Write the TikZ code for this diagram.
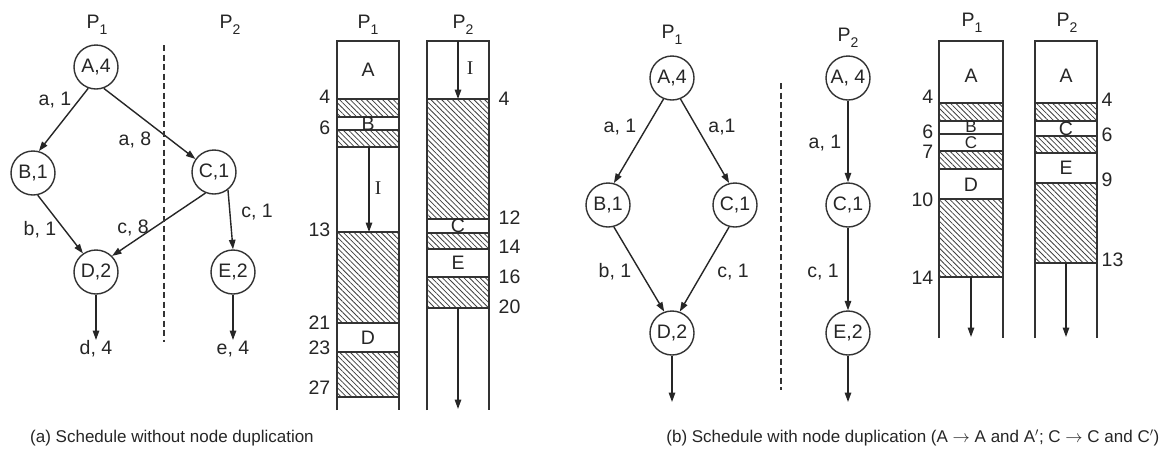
\documentclass[tikz,border=0pt]{standalone}
\usepackage{fontspec}
\setmainfont{Liberation Sans}
\newfontfamily\serifI{Liberation Serif}
\usetikzlibrary{arrows.meta,patterns.meta}
\newcommand{\Pn}[1]{P\raisebox{-0.55ex}{\fontsize{14}{14}\selectfont #1}}
\begin{document}
\begin{tikzpicture}[x=1pt,y=-1pt,
  line width=1.4pt,
  >={Triangle[length=9.5pt,width=6.5pt]},
  every node/.style={font=\fontsize{19.5}{22}\selectfont, inner sep=0pt, text=black!85},
  task/.style={circle,draw=black!80,minimum size=44pt,inner sep=0pt,font=\fontsize{19.5}{22}\selectfont},
  conn/.style={draw=black!85,->},
  sepline/.style={draw=black!80,line width=1.1pt,dash pattern=on 6pt off 3.5pt},
  colline/.style={draw=black!80},
  hatch/.style={draw=black!80, pattern={Lines[angle=-45,distance=3.8pt,line width=0.8pt]}, pattern color=black!75},
  tleft/.style={anchor=east},
  tright/.style={anchor=west},
  small/.style={font=\fontsize{17}{18}\selectfont},
  captext/.style={font=\fontsize{17}{20}\selectfont}
]
\useasboundingbox (0,0) rectangle (1162,448);
\fill[white] (0,0) rectangle (1162,448);

% ---------------- (a) graph ----------------
\node (pa1) at (97,25) {\Pn1};
\node (pa2) at (230,25) {\Pn2};
\node[task] (A) at (96,67) {A,4};
\node[task] (B) at (33,173) {B,1};
\node[task] (C) at (214,172) {C,1};
\node[task] (D) at (96,272) {D,2};
\node[task] (E) at (233,272) {E,2};
\draw[conn] (A.-110) -- (B.75);
\draw[conn] (A.-70) -- (C.145);
\draw[conn] (B.-78) -- (D.125);
\draw[conn] (C.-112) -- (D.45);
\draw[conn] (C.-52) -- (E.north);
\coordinate (dend) at (96,340);
\coordinate (eend) at (233,340);
\draw[conn] (D.south) -- (dend);
\draw[conn] (E.south) -- (eend);
\node[anchor=north] (dl) at (96,340) {d, 4};
\node[anchor=north] (el) at (233,340) {e, 4};
\node (lab1) at (55,100) {a, 1};
\node (lab2) at (135,140) {a, 8};
\node (lab3) at (40,230) {b, 1};
\node (lab4) at (133,228) {c, 8};
\node (lab5) at (257,212) {c, 1};
\coordinate (sa1) at (164,45);
\coordinate (sa2) at (164,342);
\draw[sepline] (sa1) -- (sa2);

% ---------------- (a) schedule ----------------
\node (ga1) at (368,25) {\Pn1};
\node (ga2) at (463,25) {\Pn2};
\draw[colline] (337,410) -- (337,41) -- (399,41) -- (399,410);
\draw[colline] (427,410) -- (427,41) -- (489,41) -- (489,410);
\draw[hatch] (337,99) rectangle (399,117);
\draw[hatch] (337,130) rectangle (399,147);
\draw[hatch] (337,232) rectangle (399,323);
\draw[hatch] (337,352) rectangle (399,397);
\draw[hatch] (427,99) rectangle (489,219);
\draw[hatch] (427,233) rectangle (489,249);
\draw[hatch] (427,277) rectangle (489,308);
\node (gA) at (368,70) {A};
\node (gB) at (368,124) {B};
\node (gD) at (368,338) {D};
\node (gC) at (458,226) {C};
\node (gE) at (458,263) {E};
\coordinate (ia1) at (369,147);
\coordinate (ia2) at (369,232);
\draw[conn] (ia1) -- (ia2);
\node (gI1) at (378,188) {\serifI I};
\coordinate (ib1) at (458,41);
\coordinate (ib2) at (458,99);
\draw[conn] (ib1) -- (ib2);
\node (gI2) at (470,68) {\serifI I};
\coordinate (ic1) at (458,308);
\coordinate (ic2) at (458,409);
\draw[conn] (ic1) -- (ic2);
\node[tleft] (t4) at (331,97) {4};
\node[tleft] (t6) at (331,128) {6};
\node[tleft] (t13) at (331,230) {13};
\node[tleft] (t21) at (331,323) {21};
\node[tleft] (t23) at (331,348) {23};
\node[tleft] (t27) at (331,388) {27};
\node[tright] (u4) at (498,99) {4};
\node[tright] (u12) at (498,218) {12};
\node[tright] (u14) at (498,247) {14};
\node[tright] (u16) at (498,277) {16};
\node[tright] (u20) at (498,307) {20};

% ---------------- (b) graph ----------------
\node (pb1) at (672,35) {\Pn1};
\node (pb2) at (848,38) {\Pn2};
\node[task] (A1) at (672,78) {A,4};
\node[task] (B1) at (608,205) {B,1};
\node[task] (C1) at (735,205) {C,1};
\node[task] (D1) at (672,333) {D,2};
\node[task] (A2) at (848,78) {A, 4};
\node[task] (C2) at (848,205) {C,1};
\node[task] (E2) at (848,333) {E,2};
\draw[conn] (A1.-112) -- (B1.75);
\draw[conn] (A1.-68) -- (C1.105);
\draw[conn] (B1.-75) -- (D1.110);
\draw[conn] (C1.-105) -- (D1.70);
\draw[conn] (A2.south) -- (C2.north);
\draw[conn] (C2.south) -- (E2.north);
\coordinate (d1end) at (672,402);
\coordinate (e2end) at (848,402);
\draw[conn] (D1.south) -- (d1end);
\draw[conn] (E2.south) -- (e2end);
\node (lb1) at (620,127) {a, 1};
\node (lb2) at (722,127) {a,1};
\node (lb3) at (825,143) {a, 1};
\node (lb4) at (615,272) {b, 1};
\node (lb5) at (733,272) {c, 1};
\node (lb6) at (823,272) {c, 1};
\coordinate (sb1) at (781,83);
\coordinate (sb2) at (781,390);
\draw[sepline] (sb1) -- (sb2);

% ---------------- (b) schedule ----------------
\node (gb1) at (972,23) {\Pn1};
\node (gb2) at (1067,23) {\Pn2};
\draw[colline] (939,338) -- (939,41) -- (1003,41) -- (1003,338);
\draw[colline] (1035,338) -- (1035,41) -- (1097,41) -- (1097,338);
\draw[hatch] (939,103) rectangle (1003,121);
\draw[colline] (939,134) -- (1003,134);
\draw[hatch] (939,151) rectangle (1003,169);
\draw[hatch] (939,199) rectangle (1003,277);
\draw[hatch] (1035,103) rectangle (1097,121);
\draw[hatch] (1035,136) rectangle (1097,153);
\draw[hatch] (1035,183) rectangle (1097,263);
\node (hA1) at (971,76) {A};
\node[small] (hB) at (971,127) {B};
\node[small] (hC1) at (971,143) {C};
\node (hD) at (971,185) {D};
\node (hA2) at (1066,76) {A};
\node (hC2) at (1066,129) {C};
\node (hE) at (1066,168) {E};
\coordinate (j1a) at (971,277);
\coordinate (j1b) at (971,337);
\draw[conn] (j1a) -- (j1b);
\coordinate (j2a) at (1066,263);
\coordinate (j2b) at (1066,337);
\draw[conn] (j2a) -- (j2b);
\node[tleft] (v4) at (934,97) {4};
\node[tleft] (v6) at (934,132) {6};
\node[tleft] (v7) at (934,152) {7};
\node[tleft] (v10) at (934,200) {10};
\node[tleft] (v14) at (934,278) {14};
\node[tright] (w4) at (1101,100) {4};
\node[tright] (w6) at (1101,135) {6};
\node[tright] (w9) at (1101,180) {9};
\node[tright] (w13) at (1101,260) {13};

% ---------------- captions ----------------
\node[captext] (capa) at (172,438) {(a) Schedule without node duplication};
\node[captext,anchor=east] (capb) at (1160,438) {(b) Schedule with node duplication (A $\rightarrow$ A and A$'$; C $\rightarrow$ C and C$'$)};
\end{tikzpicture}
\end{document}
